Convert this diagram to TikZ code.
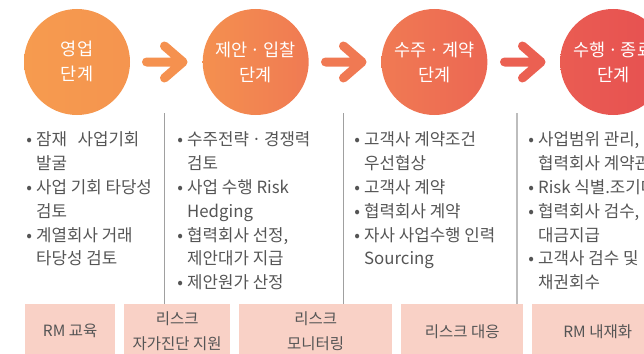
\documentclass[tikz,border=0pt]{standalone}
\usepackage{fontspec}
\setmainfont{Noto Sans CJK KR}
\definecolor{txtgray}{HTML}{555555}
\definecolor{boxfill}{HTML}{F9D1C6}
\definecolor{vgray}{HTML}{A0A0A0}
\definecolor{cA}{HTML}{F69B4F}
\definecolor{cB}{HTML}{F4904F}
\definecolor{cC}{HTML}{F07A53}
\definecolor{cD}{HTML}{EC6753}
\definecolor{cE}{HTML}{EA5C52}
\definecolor{cF}{HTML}{E65051}
\definecolor{arA}{HTML}{F5914F}
\definecolor{arB}{HTML}{F07953}
\definecolor{arC}{HTML}{EB6052}
\begin{document}
\begin{tikzpicture}[x=1pt,y=-1pt,
  stage/.style={circle,minimum size=106pt,inner sep=0pt,shade,shading angle=90},
  stagetext/.style={text=white,inner sep=0pt,font=\fontsize{17.5}{20}\selectfont,text height=15.4pt,text depth=2.1pt},
  itemtext/.style={text=txtgray,anchor=west,inner sep=0pt,font=\fontsize{16.8}{20}\selectfont,text height=14.8pt,text depth=2pt},
  rmbox/.style={fill=boxfill,anchor=north west,minimum height=54pt,inner sep=0pt,text=txtgray,align=center,font=\fontsize{15.5}{25}\selectfont},
  vline/.style={draw=vgray,line width=1pt},
  chevron/.pic={\draw[line width=9pt,line cap=round,line join=round] (-18.5,0) -- (18,0) (-0.5,-16) -- (18,0) -- (-0.5,16);}
]
\useasboundingbox (0,0) rectangle (644,353);
\clip (0,0) rectangle (644,353);

% stage circles
\node[stage,left color=cA,right color=cB!60!cA] (s1) at (77,62) {};
\node[stage,left color=cB,right color=cC] (s2) at (255.7,62) {};
\node[stage,left color=cC,right color=cD] (s3) at (434.4,62) {};
\node[stage,left color=cE,right color=cF] (s4) at (613.1,62) {};

\node[stagetext] (s1a) at (77,49) {영업};
\node[stagetext] (s1b) at (77,74) {단계};
\node[stagetext] (s2a) at (255.7,50) {제안\,·\,입찰};
\node[stagetext] (s2b) at (255.7,75) {단계};
\node[stagetext] (s3a) at (434.4,50) {수주\,·\,계약};
\node[stagetext] (s3b) at (434.4,75) {단계};
\node[stagetext] (s4a) at (613.1,50) {수행\,·\,종료};
\node[stagetext] (s4b) at (613.1,75) {단계};

% chevron arrows
\coordinate (a1) at (165,62);
\coordinate (a2) at (344,62);
\coordinate (a3) at (523,62);
\pic[color=arA] at (a1) {chevron};
\pic[color=arB] at (a2) {chevron};
\pic[color=arC] at (a3) {chevron};

% vertical separators
\coordinate (v1t) at (164,113); \coordinate (v1b) at (164,304);
\coordinate (v2t) at (343,113); \coordinate (v2b) at (343,304);
\coordinate (v3t) at (517,113); \coordinate (v3b) at (517,304);
\draw[vline] (v1t) -- (v1b);
\draw[vline] (v2t) -- (v2b);
\draw[vline,draw=vgray!70,line width=1.4pt] (v3t) -- (v3b);

\newcommand{\bul}{\llap{•\hspace{4pt}}}
% column 1
\foreach \t [count=\i from 0] in {{\bul 잠재\hspace{0.4em} 사업기회},{발굴},{\bul 사업 기회 타당성},{검토},{\bul 계열회사 거래},{타당성 검토}}
  \node[itemtext] (c1-\i) at (36,139.5+23.8*\i) {\t};
% column 2
\foreach \t [count=\i from 0] in {{\bul 수주전략\,·\,경쟁력},{검토},{\bul 사업 수행 Risk},{Hedging},{\bul 협력회사 선정,},{제안대가 지급},{\bul 제안원가 산정}}
  \node[itemtext] (c2-\i) at (187,139.5+23.8*\i) {\t};
% column 3
\foreach \t [count=\i from 0] in {{\bul 고객사 계약조건},{우선협상},{\bul 고객사 계약},{\bul 협력회사 계약},{\bul 자사 사업수행 인력},{Sourcing}}
  \node[itemtext] (c3-\i) at (364,139.5+23.8*\i) {\t};
% column 4
\foreach \t [count=\i from 0] in {{\bul 사업범위 관리,},{협력회사 계약관리},{\bul Risk 식별.조기대응},{\bul 협력회사 검수,},{대금지급},{\bul 고객사 검수 및},{채권회수}}
  \node[itemtext] (c4-\i) at (538,139.5+23.8*\i) {\t};

% bottom boxes
\node[rmbox,minimum width=90pt] (b1) at (25,304) {RM 교육};
\node[rmbox,minimum width=106pt] (b2) at (124,304) {리스크\\자가진단 지원};
\node[rmbox,minimum width=153pt] (b3) at (239,304) {리스크\\모니터링};
\node[rmbox,minimum width=122pt] (b4) at (401,304) {리스크 대응};
\node[rmbox,minimum width=131pt] (b5) at (532,304) {RM 내재화};
\end{tikzpicture}
\end{document}
